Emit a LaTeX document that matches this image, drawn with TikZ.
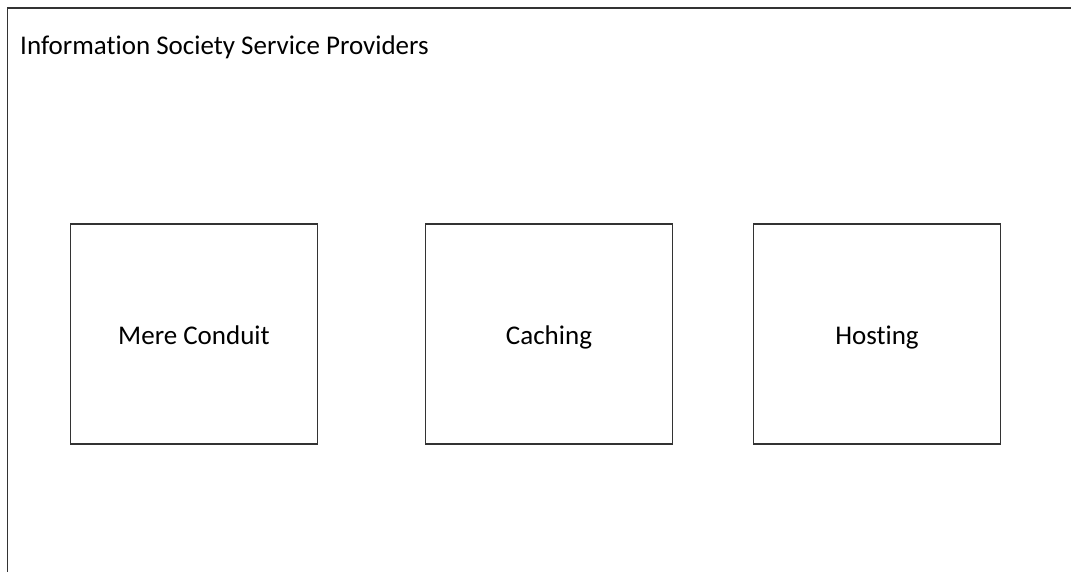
\documentclass[tikz,border=0pt]{standalone}
\usepackage{fontspec}
\setmainfont[RawFeature=-liga]{Carlito}
\begin{document}
\begin{tikzpicture}[x=1pt,y=-1pt,every node/.style={font=\fontsize{27}{32}\selectfont},
  service/.style={draw=black!80,line width=1.2pt,minimum width=247pt,minimum height=220pt,inner sep=0pt,text height=25pt,text depth=4pt}]
  \useasboundingbox (0,0) rectangle (1071,572);
  \clip (0,0) rectangle (1071,572);
  \draw[black!80,line width=1.5pt] (7.5,8) rectangle (1120,620);
  \node[anchor=west,inner sep=0pt] (isp) at (20,47) {Information Society Service Providers};
  \node[service] (conduit) at (194,334) {Mere Conduit};
  \node[service] (caching) at (549,334) {Caching};
  \node[service] (hosting) at (877,334) {Hosting};
\end{tikzpicture}
\end{document}
